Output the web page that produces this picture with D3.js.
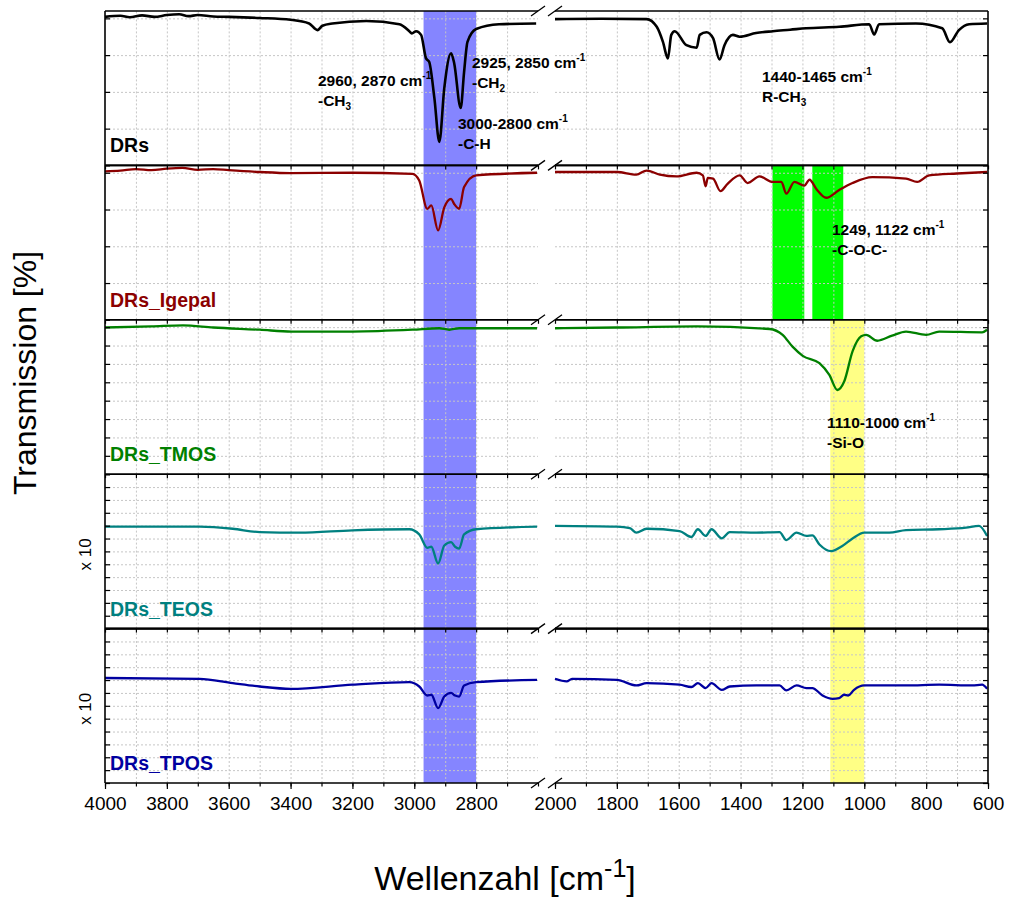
<!DOCTYPE html>
<html>
<head>
<meta charset="utf-8">
<script src="https://cdn.jsdelivr.net/npm/d3@7/dist/d3.min.js"></script>
<style>
  body { margin: 0; background: #fff; }
  svg { font-family: "Liberation Sans", Arial, sans-serif; }
  .grid line { stroke: #c6c6c6; stroke-dasharray: 2,2; stroke-width: 1; }
  .grid path, .tk path { display: none; }
  .tk line { stroke: #000; stroke-width: 1.2; }
</style>
</head>
<body>
<svg id="chart" width="1010" height="900"></svg>
<script>
// ---- data: [wavenumber cm-1, transmission (panel units)] ----
const drs = [
  [4000,100.4],[3950,100.7],[3920,100.3],[3880,100.8],[3840,100.4],[3800,100.9],[3760,101.1],[3730,100.6],[3700,100.9],[3650,100.5],
  [3600,100.4],[3500,100.1],[3400,99.6],[3340,98.6],[3313,96.8],[3297,98.0],[3265,98.6],[3155,99.3],[3048,98.4],[3016,96.5],
  [3008,95.9],[2994,96.5],[2978,95.5],[2962,89.1],[2952,88.2],[2935,78.3],[2919,66.4],[2903,81.0],[2881,90.5],[2871,87.8],
  [2850,75.6],[2839,85.4],[2828,93.6],[2800,97.1],[2726,98.4],[2606,98.6],
  [2000,99.8],[1850,99.9],[1704,99.8],[1671,97.7],[1651,93.6],[1635,89.1],[1624,95.5],[1613,96.5],[1575,92.7],[1542,92.0],
  [1532,95.5],[1510,96.2],[1489,94.6],[1468,88.8],[1452,92.7],[1425,95.5],[1403,95.0],[1350,96.0],[1296,96.5],[1240,96.9],
  [1188,97.3],[1081,97.7],[984,98.4],[968,95.6],[952,98.4],[833,98.6],[748,97.3],[723,93.5],[694,96.8],[661,98.4],[603,98.6]
];
const drsIgepal = [
  [4000,100.4],[3950,100.6],[3900,101.0],[3850,100.7],[3800,101.1],[3750,101.3],[3700,100.8],[3650,101.0],[3600,100.7],[3500,100.2],
  [3400,99.9],[3200,100.0],[3006,99.7],[2984,97.9],[2958,90.2],[2945,91.1],[2923,84.3],[2903,90.6],[2881,92.9],[2871,91.5],
  [2855,90.2],[2839,96.1],[2800,99.3],[2603,100.0],
  [2000,100.2],[1800,100.2],[1737,99.5],[1704,100.6],[1661,99.5],[1607,99.0],[1542,100.0],[1522,99.3],[1513,96.3],[1506,98.6],
  [1489,98.4],[1465,95.0],[1442,97.0],[1403,99.3],[1377,97.2],[1339,99.0],[1296,97.5],[1268,97.5],[1252,94.3],[1226,97.5],
  [1194,96.5],[1177,98.1],[1155,95.6],[1123,93.2],[1081,95.3],[1038,97.2],[974,98.8],[865,98.4],[829,97.5],[790,99.3],
  [700,99.8],[603,100.2]
];
const drsTmos = [
  [4000,99.9],[3850,100.2],[3748,100.5],[3650,99.9],[3500,99.3],[3397,98.8],[3200,98.8],[3006,99.3],[2919,99.7],[2887,99.3],
  [2855,99.7],[2603,99.7],
  [2000,99.7],[1800,99.9],[1542,100.2],[1306,99.5],[1264,97.9],[1232,94.7],[1199,92.2],[1145,90.2],[1113,87.0],[1087,82.9],
  [1065,85.2],[1038,93.4],[1010,97.5],[994,97.9],[958,96.3],[910,97.7],[865,98.8],[800,97.9],[758,98.8],[619,98.6],[603,99.3]
];
const drsTeos = [
  [4000,79.6],[3694,79.6],[3587,78.8],[3500,77.5],[3371,77.3],[3200,78.2],[3016,78.6],[2984,76.6],[2958,71.4],[2945,71.8],
  [2923,65.3],[2903,72.3],[2881,73.6],[2868,71.8],[2855,71.1],[2839,76.6],[2800,78.6],[2603,79.6],
  [2000,79.9],[1800,79.6],[1758,79.0],[1737,77.3],[1704,78.8],[1597,77.9],[1559,75.6],[1538,78.6],[1513,76.0],[1494,78.6],
  [1461,75.1],[1435,77.5],[1349,77.3],[1274,77.5],[1252,74.4],[1219,77.3],[1187,76.0],[1168,76.2],[1145,72.7],[1107,70.1],
  [1071,72.1],[1038,75.0],[1000,77.3],[919,77.3],[865,78.3],[758,78.6],[671,79.2],[629,79.9],[603,76.0]
];
const drsTpos = [
  [4000,80.8],[3694,80.5],[3587,78.8],[3500,77.5],[3400,76.6],[3200,78.2],[3016,79.2],[2984,77.5],[2958,74.0],[2945,74.3],
  [2923,69.1],[2903,73.6],[2881,75.0],[2868,74.0],[2855,73.6],[2839,77.9],[2800,79.2],[2603,80.1],
  [2000,80.5],[1962,79.5],[1945,80.5],[1800,80.1],[1737,77.9],[1704,78.8],[1597,78.2],[1559,77.3],[1538,78.8],[1513,76.9],
  [1494,78.8],[1461,76.2],[1435,77.5],[1349,77.9],[1274,77.9],[1252,76.0],[1219,77.9],[1187,76.9],[1168,76.9],[1135,74.0],
  [1102,72.7],[1081,73.0],[1065,74.3],[1052,74.0],[1033,76.2],[1000,77.9],[865,77.9],[758,78.2],[651,77.9],[619,78.2],[603,76.6]
];

const panelNames = ["DRs", "DRs_Igepal", "DRs_TMOS", "DRs_TEOS", "DRs_TPOS"];
const panelSeries = [drs, drsIgepal, drsTmos, drsTeos, drsTpos];
const panelColors = ["#000000", "#8b0000", "#008000", "#008080", "#0000a0"];
const panelDomains = [[60, 102], [60, 102], [60, 102], [40, 100], [40, 100]];
const panelTickSteps = [10, 10, 5, 5, 5];
const scaleNotes = ["", "", "", "x 10", "x 10"];

const xLabelsLeft = [4000, 3800, 3600, 3400, 3200, 3000, 2800];
const xLabelsRight = [2000, 1800, 1600, 1400, 1200, 1000, 800, 600];

// highlighted bands: [from, to] cm-1, first..last panel
const bands = [
  { range: [2970, 2800], panels: [0, 4], color: "#8585ff" },
  { range: [1297, 1194], panels: [1, 1], color: "#00ff00" },
  { range: [1168, 1068], panels: [1, 1], color: "#00ff00" },
  { range: [1110, 1000], panels: [2, 4], color: "#ffff85" }
];

// ---- layout ----
const svg = d3.select("#chart");
const top0 = 11, panelH = 154.4;
const xL = d3.scaleLinear().domain([4000, 2600]).range([105, 538]);
const xR = d3.scaleLinear().domain([2000, 600]).range([555, 988]);
const segs = [
  { x: xL, keep: d => d[0] >= 2600, grid: d3.range(3900, 2650, -100), minor: d3.range(4000, 2550, -100), labels: xLabelsLeft },
  { x: xR, keep: d => d[0] <= 2000, grid: d3.range(1900, 650, -100), minor: d3.range(2000, 550, -100), labels: xLabelsRight }
];
const panelTop = i => top0 + i * panelH;
const bottom = panelTop(5);

const gBands = svg.append("g");
const gGrid = svg.append("g");
const gLines = svg.append("g");
const gText = svg.append("g");
const gFrame = svg.append("g");

bands.forEach(b => {
  const seg = segs.find(s => s.keep([b.range[0]]));
  gBands.append("rect")
    .attr("x", seg.x(b.range[0]))
    .attr("width", seg.x(b.range[1]) - seg.x(b.range[0]))
    .attr("y", panelTop(b.panels[0]))
    .attr("height", panelTop(b.panels[1] + 1) - panelTop(b.panels[0]))
    .attr("fill", b.color);
});

panelSeries.forEach((series, i) => {
  const y0 = panelTop(i);
  const dom = panelDomains[i];
  const y = d3.scaleLinear().domain(dom).range([y0 + panelH, y0]);
  const ticks = d3.range(dom[0], dom[1] + 0.001, panelTickSteps[i]);

  segs.forEach(seg => {
    const [r0, r1] = seg.x.range();
    // grid
    gGrid.append("g").attr("class", "grid")
      .attr("transform", `translate(${r0},0)`)
      .call(d3.axisLeft(y).tickValues(ticks.filter(t => y(t) > y0 + 2 && y(t) < y0 + panelH - 2)).tickSize(-(r1 - r0)).tickFormat(""));
    gGrid.append("g").attr("class", "grid")
      .attr("transform", `translate(0,${y0 + panelH})`)
      .call(d3.axisBottom(seg.x).tickValues(seg.grid).tickSize(panelH).tickFormat(""))
      .selectAll("line").attr("y2", -panelH);

    // spectrum
    const line = d3.line()
      .x(d => seg.x(d[0]))
      .y(d => y(d[1]))
      .curve(d3.curveMonotoneX);
    gLines.append("path")
      .datum(series.filter(seg.keep))
      .attr("d", line)
      .attr("fill", "none")
      .attr("stroke", panelColors[i])
      .attr("stroke-width", i === 0 ? 2.6 : 2.3)
      .attr("stroke-linejoin", "round");

    // frame
    [y0, y0 + panelH].forEach(yy => {
      gFrame.append("line").attr("x1", r0).attr("x2", r1).attr("y1", yy).attr("y2", yy)
        .attr("stroke", "#000").attr("stroke-width", i === 3 && yy > y0 ? 2.4 : 1.6);
    });
    if (i > 0) {
      gFrame.append("g").attr("class", "tk")
        .attr("transform", `translate(0,${y0})`)
        .call(d3.axisTop(seg.x).tickValues(seg.minor).tickSize(-4).tickFormat(""));
    }
  });

  // y ticks inward
  gFrame.append("g").attr("class", "tk").attr("transform", "translate(105,0)")
    .call(d3.axisLeft(y).tickValues(ticks).tickSize(-5).tickFormat(""));
  gFrame.append("g").attr("class", "tk").attr("transform", "translate(988,0)")
    .call(d3.axisRight(y).tickValues(ticks).tickSize(-5).tickFormat(""));

  gText.append("text")
    .attr("x", 110).attr("y", y0 + panelH - 13)
    .attr("font-size", 19.5).attr("font-weight", "bold")
    .attr("fill", panelColors[i])
    .text(panelNames[i]);

  if (scaleNotes[i]) {
    gText.append("text")
      .attr("transform", `translate(91,${y0 + panelH / 2 + 3}) rotate(-90)`)
      .attr("text-anchor", "middle").attr("font-size", 17)
      .text(scaleNotes[i]);
  }
});

// outer verticals
[105, 988].forEach(xx => {
  gFrame.append("line").attr("x1", xx).attr("x2", xx).attr("y1", top0).attr("y2", bottom)
    .attr("stroke", "#000").attr("stroke-width", 1.6);
});

// bottom axis
segs.forEach(seg => {
  gFrame.append("g").attr("class", "tk").attr("transform", `translate(0,${bottom})`)
    .call(d3.axisBottom(seg.x).tickValues(seg.minor).tickSize(3.5).tickFormat(""));
  const ax = gFrame.append("g").attr("class", "tk").attr("transform", `translate(0,${bottom})`)
    .call(d3.axisBottom(seg.x).tickValues(seg.labels).tickSize(6).tickPadding(7.5).tickFormat(d3.format("d")));
  ax.selectAll("text").attr("font-size", 19).attr("font-family", "Liberation Sans, Arial, sans-serif").attr("fill", "#000");
});

// axis break marks
d3.range(6).forEach(k => {
  const yy = panelTop(k);
  [538, 555].forEach(xx => {
    gFrame.append("line")
      .attr("x1", xx - 7).attr("y1", yy + 5).attr("x2", xx + 7).attr("y2", yy - 5)
      .attr("stroke", "#000").attr("stroke-width", 1.3);
  });
});

// annotations
const notes = [
  { x: 318, y: 86, l1: "2960, 2870 cm", l2: "-CH", sub: "3" },
  { x: 472, y: 68, l1: "2925, 2850 cm", l2: "-CH", sub: "2" },
  { x: 458, y: 129, l1: "3000-2800 cm", l2: "-C-H", sub: "" },
  { x: 762, y: 82, l1: "1440-1465 cm", l2: "R-CH", sub: "3" },
  { x: 832, y: 235, l1: "1249, 1122 cm", l2: "-C-O-C-", sub: "" },
  { x: 827, y: 428, l1: "1110-1000 cm", l2: "-Si-O", sub: "" }
];
notes.forEach(n => {
  const t1 = gText.append("text").attr("x", n.x).attr("y", n.y)
    .attr("font-size", 15.5).attr("font-weight", "bold");
  t1.append("tspan").text(n.l1);
  t1.append("tspan").attr("font-size", 10).attr("dy", -7).text("-1");
  const t2 = gText.append("text").attr("x", n.x).attr("y", n.y + 19.5)
    .attr("font-size", 15.5).attr("font-weight", "bold");
  t2.append("tspan").text(n.l2);
  if (n.sub) t2.append("tspan").attr("font-size", 10).attr("dy", 4).text(n.sub);
});

// axis titles
svg.append("text")
  .attr("transform", "translate(36,373) rotate(-90)")
  .attr("text-anchor", "middle").attr("font-size", 32)
  .text("Transmission [%]");

const xt = svg.append("text")
  .attr("x", 505).attr("y", 890)
  .attr("text-anchor", "middle").attr("font-size", 34);
xt.append("tspan").text("Wellenzahl [cm");
xt.append("tspan").attr("font-size", 25).attr("dy", -13).text("-1");
xt.append("tspan").attr("dy", 13).text("]");
</script>
</body>
</html>
